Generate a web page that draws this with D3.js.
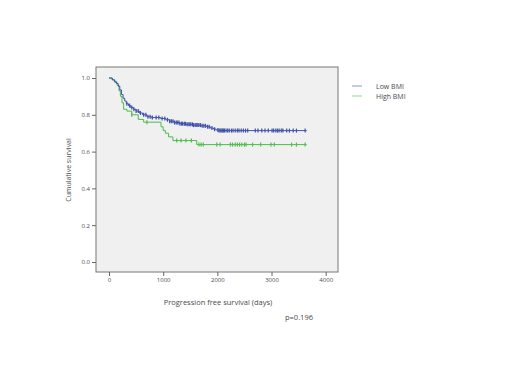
<!DOCTYPE html>
<html>
<head>
<meta charset="utf-8">
<script src="https://cdn.jsdelivr.net/npm/d3@7"></script>
<style>
  body { margin: 0; background: #fff; }
  text { font-family: "Open Sans", "DejaVu Sans", sans-serif; }
</style>
</head>
<body>
<div id="chart"></div>
<script>
// Kaplan-Meier steps
var lowTimes = [0, 60, 100, 140, 170, 200, 230, 260, 290, 320, 360, 400, 450, 500, 560, 620, 700, 780, 950, 1050, 1120, 1200, 1300, 1420, 1550, 1700, 1800, 1870, 1930, 1980, 2030];
var lowSurv = [1.0, 0.99, 0.98, 0.97, 0.955, 0.935, 0.91, 0.89, 0.875, 0.86, 0.85, 0.84, 0.83, 0.82, 0.81, 0.80, 0.79, 0.785, 0.78, 0.773, 0.765, 0.758, 0.752, 0.748, 0.744, 0.740, 0.735, 0.728, 0.722, 0.717, 0.714];
var lowCensor = [330, 380, 420, 460, 500, 540, 580, 640, 680, 720, 760, 800, 870, 920, 980, 1030, 1080, 1120, 1150, 1180, 1210, 1240, 1260, 1290, 1310, 1340, 1360, 1390, 1410, 1440, 1460, 1490, 1510, 1540, 1560, 1590, 1610, 1640, 1660, 1690, 1720, 1750, 1780, 1820, 1850, 1900, 1950, 2010, 2030, 2050, 2070, 2090, 2110, 2130, 2160, 2190, 2220, 2260, 2290, 2330, 2370, 2400, 2440, 2480, 2520, 2560, 2700, 2750, 2820, 2880, 2940, 3010, 3040, 3080, 3110, 3140, 3180, 3210, 3280, 3330, 3400, 3460, 3620];

var highTimes = [0, 60, 110, 150, 185, 210, 240, 270, 330, 420, 540, 640, 960, 1000, 1040, 1100, 1180, 1620];
var highSurv = [1.0, 0.99, 0.975, 0.96, 0.93, 0.9, 0.865, 0.83, 0.82, 0.80, 0.775, 0.76, 0.735, 0.715, 0.70, 0.68, 0.66, 0.638];
var highCensor = [420, 700, 1250, 1330, 1420, 1520, 1660, 1700, 1740, 1990, 2050, 2240, 2280, 2330, 2370, 2410, 2450, 2500, 2530, 2650, 2800, 2990, 3050, 3370, 3460, 3620];

var endTime = 3650;
var groupNames = ["Low BMI", "High BMI"];
var xTicks = [0, 1000, 2000, 3000, 4000];
var yTicks = [0.0, 0.2, 0.4, 0.6, 0.8, 1.0];

var width = 520, height = 390;
var colors = ["#3f51a8", "#4cbc4c"];
var textColor = "#4a4a4a";

var svg = d3.select("#chart").append("svg")
    .attr("width", width)
    .attr("height", height);

// scales
var x = d3.scaleLinear().domain([0, 4000]).range([109, 325.7]);
var y = d3.scaleLinear().domain([0, 1]).range([262, 78]);

// plot frame
svg.append("rect")
    .attr("x", 96).attr("y", 67)
    .attr("width", 242).attr("height", 205)
    .attr("fill", "#f0f0f0")
    .attr("stroke", "#777")
    .attr("stroke-width", 1);

// axes
var xAxis = svg.append("g")
    .attr("transform", "translate(0,272)")
    .call(d3.axisBottom(x).tickValues(xTicks).tickFormat(d3.format("d")).tickSize(4).tickPadding(2));
var yAxis = svg.append("g")
    .attr("transform", "translate(96,0)")
    .call(d3.axisLeft(y).tickValues(yTicks).tickFormat(d3.format(".1f")).tickSize(4).tickPadding(2));
[xAxis, yAxis].forEach(function (a) {
    a.select(".domain").remove();
    a.selectAll("line").attr("stroke", "#666");
    a.selectAll("text").style("font-size", "6px").attr("fill", textColor);
});

// survival curves
function stepData(times, surv) {
    var pts = times.map(function (t, i) { return [t, surv[i]]; });
    pts.push([endTime, surv[surv.length - 1]]);
    return pts;
}
function survAt(times, surv, t) {
    var s = surv[0];
    for (var i = 0; i < times.length; i++) {
        if (times[i] <= t) s = surv[i];
    }
    return s;
}

var line = d3.line()
    .x(function (d) { return x(d[0]); })
    .y(function (d) { return y(d[1]); })
    .curve(d3.curveStepAfter);

var groups = [
    { times: highTimes, surv: highSurv, censor: highCensor, color: colors[1] },
    { times: lowTimes, surv: lowSurv, censor: lowCensor, color: colors[0] }
];

groups.forEach(function (g) {
    svg.append("path")
        .datum(stepData(g.times, g.surv))
        .attr("fill", "none")
        .attr("stroke", g.color)
        .attr("stroke-width", 1)
        .attr("d", line);

    // censor marks
    svg.selectAll(null)
        .data(g.censor)
        .enter()
        .append("line")
        .attr("x1", function (d) { return x(d); })
        .attr("x2", function (d) { return x(d); })
        .attr("y1", function (d) { return y(survAt(g.times, g.surv, d)) - 2; })
        .attr("y2", function (d) { return y(survAt(g.times, g.surv, d)) + 2; })
        .attr("stroke", g.color)
        .attr("stroke-width", 1.2);
});

// axis titles
svg.append("text")
    .attr("x", 218).attr("y", 305)
    .attr("text-anchor", "middle")
    .attr("fill", textColor)
    .style("font-size", "7.5px")
    .text("Progression free survival (days)");

svg.append("text")
    .attr("transform", "translate(71,170) rotate(-90)")
    .attr("text-anchor", "middle")
    .attr("fill", textColor)
    .style("font-size", "7px")
    .text("Cumulative survival");

svg.append("text")
    .attr("x", 299).attr("y", 320)
    .attr("text-anchor", "middle")
    .attr("fill", textColor)
    .style("font-size", "7.5px")
    .text("p=0.196");

// legend
var legend = svg.append("g");
groupNames.forEach(function (name, i) {
    var ly = 86 + i * 10;
    legend.append("line")
        .attr("x1", 352).attr("x2", 362)
        .attr("y1", ly).attr("y2", ly)
        .attr("stroke", colors[i])
        .attr("stroke-opacity", 0.6)
        .attr("stroke-width", 1);
    legend.append("text")
        .attr("x", 376).attr("y", ly + 2.5)
        .attr("fill", textColor)
        .style("font-size", "7px")
        .text(name);
});
</script>
</body>
</html>
